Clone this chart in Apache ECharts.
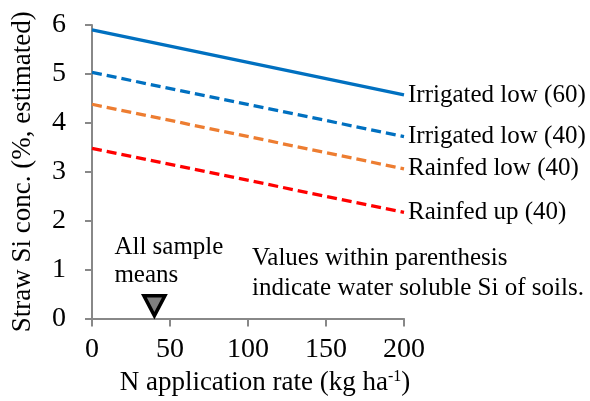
<!DOCTYPE html>
<html><head><meta charset="utf-8">
<script src="https://cdn.jsdelivr.net/npm/echarts@6/dist/echarts.min.js"></script>
<style>html,body{margin:0;padding:0;background:#fff}#c{width:590px;height:401px}</style>
</head><body><div id="c"></div>
<script>
const xPoints = [0, 200];
const seriesNames = ['Irrigated low (60)', 'Irrigated low (40)', 'Rainfed low (40)', 'Rainfed up (40)'];
const irrigatedLow60 = [5.90, 4.57];
const irrigatedLow40 = [5.03, 3.72];
const rainfedLow40 = [4.38, 3.06];
const rainfedUp40 = [3.48, 2.17];
const meanPoint = [40, 0.26];
const xTicks = [0, 50, 100, 150, 200];
const yTicks = [0, 1, 2, 3, 4, 5, 6];

const FONT = "'Liberation Serif','Times New Roman',serif";
const colors = ['#0070C0', '#0070C0', '#ED7D31', '#FF0000'];
const dashes = ['solid', [10, 5], [10, 5], [10, 5]];
const values = [irrigatedLow60, irrigatedLow40, rainfedLow40, rainfedUp40];

const chart = echarts.init(document.getElementById('c'));
const lineSeries = values.map((v, i) => ({
  type: 'line',
  name: seriesNames[i],
  data: xPoints.map((x, j) => [x, v[j]]),
  symbol: 'none',
  lineStyle: { color: colors[i], width: 3.3, type: dashes[i] },
  endLabel: { show: true, formatter: '{a}', fontFamily: FONT, fontSize: 25, color: '#000', distance: 4 },
  silent: true, animation: false
}));

chart.setOption({
  animation: false,
  grid: { left: 92, right: 186, top: 25, bottom: 82 },
  xAxis: {
    type: 'value', min: 0, max: 200, interval: 50,
    name: 'N application rate (kg ha{sup|-1})',
    nameLocation: 'middle', nameGap: 50,
    nameTextStyle: { fontFamily: FONT, fontSize: 27, color: '#000', padding: [0, 0, 0, 34],
      rich: { sup: { fontFamily: FONT, fontSize: 16, color: '#000', padding: [0, 0, 12, 0] } } },
    axisLine: { lineStyle: { color: '#888', width: 2 } },
    axisTick: { show: true, length: 8, lineStyle: { color: '#888', width: 2 } },
    axisLabel: { fontFamily: FONT, fontSize: 28, color: '#000', margin: 17,
      formatter: v => xTicks.includes(v) ? String(v) : '' },
    splitLine: { show: false }
  },
  yAxis: {
    type: 'value', min: 0, max: 6, interval: 1,
    name: 'Straw Si conc. (%, estimated)',
    nameLocation: 'middle', nameGap: 56, nameRotate: 90,
    nameTextStyle: { fontFamily: FONT, fontSize: 27, color: '#000' },
    axisLine: { show: true, lineStyle: { color: '#888', width: 2 } },
    axisTick: { show: true, length: 7, lineStyle: { color: '#888', width: 2 } },
    axisLabel: { fontFamily: FONT, fontSize: 28, color: '#000', margin: 26,
      formatter: v => yTicks.includes(v) ? String(v) : '' },
    splitLine: { show: false }
  },
  series: lineSeries.concat([{
    type: 'scatter',
    data: [meanPoint],
    symbol: 'triangle', symbolRotate: 180, symbolSize: [21, 20],
    itemStyle: { color: '#7f7f7f', borderColor: '#000', borderWidth: 3.5, opacity: 1 },
    label: { show: true, position: 'top', formatter: 'All sample\nmeans', align: 'left',
      offset: [-40, 0], fontFamily: FONT, fontSize: 25, color: '#000', lineHeight: 28, opacity: 1 },
    silent: true
  }]),
  graphic: [{
    type: 'text', left: 252, top: 243,
    style: { text: 'Values within parenthesis\nindicate water soluble Si of soils.',
      font: "25px 'Liberation Serif'", fill: '#000', lineHeight: 30 }
  }]
});
</script></body></html>
